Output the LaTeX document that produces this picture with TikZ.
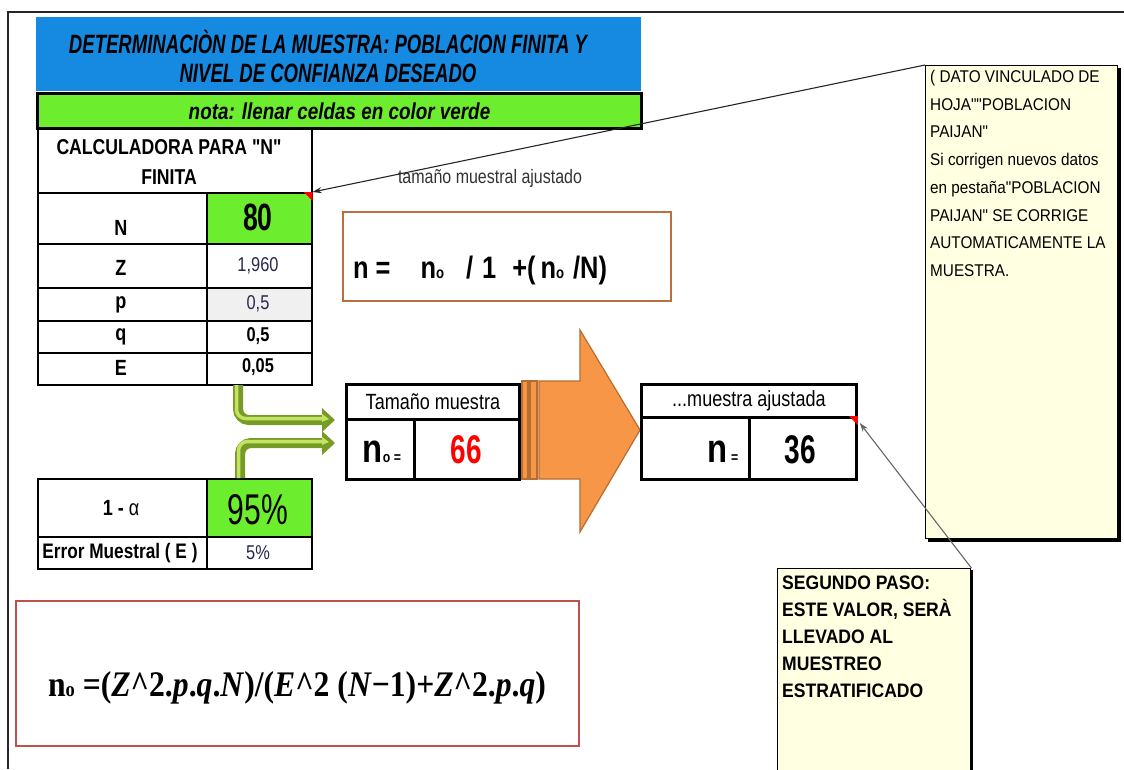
\documentclass[tikz,border=0pt]{standalone}
\usepackage{fontspec}
\setmainfont{Liberation Sans}
\newfontfamily\nfA[FakeStretch=0.70]{Liberation Sans}
\newfontfamily\nfB[FakeStretch=0.82]{Liberation Sans}
\newfontfamily\nfN[FakeStretch=0.90]{Liberation Sans}
\newfontfamily\nfS[FakeStretch=0.88]{Liberation Serif}
\usetikzlibrary{arrows.meta,calc}
\definecolor{xlblue}{RGB}{22,137,224}
\definecolor{xlgreen}{RGB}{108,238,46}
\definecolor{orfill}{RGB}{247,150,70}
\definecolor{ordraw}{RGB}{182,109,49}
\definecolor{brownb}{RGB}{184,112,62}
\definecolor{redb}{RGB}{192,80,77}
\definecolor{notefill}{RGB}{255,255,225}
\definecolor{gdark}{RGB}{118,156,38}
\definecolor{glight}{RGB}{196,226,100}
\definecolor{pgray}{RGB}{240,240,240}
\definecolor{valc}{RGB}{40,40,80}
\newcommand{\myfs}[2]{\fontsize{#1}{#2}\selectfont}
\begin{document}
\begin{tikzpicture}[x=1pt,y=-1pt,
  cell/.style={draw=black, line width=1.6pt, inner sep=0pt, anchor=north west},
  thickbox/.style={draw=black, line width=2.8pt, inner sep=0pt, anchor=north west},
  lab/.style={inner sep=0pt, font=\nfB\bfseries\myfs{22}{22}},
  val/.style={inner sep=0pt, font=\nfB\myfs{20}{20}, text=valc},
  valb/.style={inner sep=0pt, font=\nfB\bfseries\myfs{20}{20}},
  big/.style={inner sep=0pt, font=\nfA\bfseries\myfs{40}{40}},
  notebox/.style={draw=black, line width=1.4pt, fill=notefill, inner sep=0pt, anchor=north west},
  shadowbox/.style={fill=black, inner sep=0pt, anchor=north west},
  link/.style={line width=1.1pt, -{Stealth[length=9pt,width=6pt]}},
  orshape/.style={fill=orfill, draw=ordraw, line width=1.2pt},
]
\useasboundingbox (0,0) rectangle (1124,769);
\fill[white] (0,0) rectangle (1124,769);
\draw[line width=1.3pt, black!85] (8,769) -- (8,12) -- (1124,12);

% title and note bar
\node[fill=xlblue, minimum width=605pt, minimum height=74pt, anchor=north west, inner sep=0pt] (title) at (36,17) {};
\node[inner sep=0pt, font=\nfA\bfseries\itshape\myfs{26.5}{29}, align=center] (titlet) at (328,56)
  {DETERMINACIÒN DE LA MUESTRA: POBLACION FINITA Y\\NIVEL DE CONFIANZA DESEADO};
\node[fill=xlgreen, draw=black, line width=3pt, minimum width=604pt, minimum height=35pt,
  anchor=north west, inner sep=0pt, font=\nfB\bfseries\itshape\myfs{23}{23}] (nota) at (36,92)
  {nota: llenar celdas en color verde};

% calculator table
\node[cell, minimum width=274pt, minimum height=64pt] (hdr) at (37,128) {};
\node[inner sep=0pt, align=center, font=\nfB\bfseries\myfs{21.5}{30}] (hdrt) at (169,162) {CALCULADORA PARA "N"\\FINITA};
\node[cell, minimum width=169pt, minimum height=51pt] (cN) at (37,192) {};
\node[cell, fill=xlgreen, minimum width=105pt, minimum height=51pt] (vN) at (206,192) {};
\node[cell, minimum width=169pt, minimum height=44pt] (cZ) at (37,243) {};
\node[cell, minimum width=105pt, minimum height=44pt] (vZ) at (206,243) {};
\node[cell, minimum width=169pt, minimum height=33pt] (cp) at (37,287) {};
\node[cell, fill=pgray, minimum width=105pt, minimum height=33pt] (vp) at (206,287) {};
\node[cell, minimum width=169pt, minimum height=32pt] (cq) at (37,320) {};
\node[cell, minimum width=105pt, minimum height=32pt] (vq) at (206,320) {};
\node[cell, minimum width=169pt, minimum height=32pt] (cE) at (37,352) {};
\node[cell, minimum width=105pt, minimum height=32pt] (vE) at (206,352) {};
\fill[red] (vN.north east) -- ++(-9,0) -- ++(9,9) -- cycle;

\node[lab] (tN) at (121,228) {N};
\node[big, font=\nfA\bfseries\myfs{38}{38}] (t80) at (258,217) {80};
\node[lab] (tZ) at (121,268) {Z};
\node[val] (t1960) at (258,266) {1,960};
\node[lab] (tp) at (121,305) {p};
\node[val] (tp5) at (258,304) {0,5};
\node[lab] (tq) at (121,337) {q};
\node[valb] (tq5) at (258,336) {0,5};
\node[lab] (tE) at (121,368) {E};
\node[valb] (tE5) at (258,367) {0,05};

% confidence table
\node[cell, minimum width=169pt, minimum height=58pt] (cA) at (37,478) {};
\node[cell, fill=xlgreen, minimum width=105pt, minimum height=58pt] (vA) at (206,478) {};
\node[cell, minimum width=169pt, minimum height=32pt] (cEr) at (37,536) {};
\node[cell, minimum width=105pt, minimum height=32pt] (vEr) at (206,536) {};
\node[lab, font=\nfB\bfseries\myfs{22}{22}] (talpha) at (121,508) {1 - {\mdseries α}};
\node[big, font=\nfA\myfs{43}{43}] (t95) at (258,510) {95\%};
\node[lab, font=\nfB\bfseries\myfs{21}{21}] (terr) at (120,553) {Error Muestral ( E )};
\node[val] (t5) at (258,553) {5\%};

% green arrows
\coordinate (g1s) at (238,385);
\coordinate (g1e) at (322,420);
\coordinate (g2s) at (240,478);
\coordinate (g2e) at (322,443);
\foreach \s/\e in {g1s/g1e, g2s/g2e}{
  \draw[line width=10pt, gdark, rounded corners=11pt] (\s) |- (\e);
  \draw[line width=3.5pt, glight, rounded corners=9pt] ($(\s)+(-1.5,0)$) |- ($(\e)+(0,-1.5)$);
  \fill[gdark] ($(\e)+(0,-12)$) -- ($(\e)+(13,0)$) -- ($(\e)+(0,12)$) -- cycle;
  \fill[glight] ($(\e)+(0,-6)$) -- ($(\e)+(7,-1)$) -- ($(\e)+(0,2)$) -- cycle;
}

% Tamano muestra box
\node[thickbox, minimum width=173pt, minimum height=35pt, font=\nfB\myfs{22}{22}] (tamh) at (345,383) {Tamaño muestra};
\node[thickbox, minimum width=68pt, minimum height=60pt] (tamL) at (345,418) {};
\node[thickbox, minimum width=105pt, minimum height=60pt] (tamR) at (413,418) {};
\node[inner sep=0pt, anchor=base] (tn0) at (382,462) {{\nfB\bfseries\myfs{40}{40}n}{\nfB\bfseries\myfs{15}{15}o =}};
\node[big, text=red] (t66) at (466,450) {66};

% orange arrow
\filldraw[orshape] (522,381) rectangle (528,479);
\filldraw[orshape] (530,381) rectangle (537,479);
\filldraw[orshape] (539,381) -- (580,381) -- (580,330) -- (640,430) -- (580,532) -- (580,479) -- (539,479) -- cycle;

% muestra ajustada box
\node[thickbox, minimum width=215pt, minimum height=33pt, font=\nfB\myfs{22}{22}] (ajh) at (640,383) {...muestra ajustada};
\node[thickbox, minimum width=108pt, minimum height=62pt] (ajL) at (640,416) {};
\node[thickbox, minimum width=107pt, minimum height=62pt] (ajR) at (748,416) {};
\node[inner sep=0pt, anchor=base] (tn) at (723,462) {{\nfB\bfseries\myfs{40}{40}n}{\nfB\bfseries\myfs{15}{15} =}};
\node[big] (t36) at (800,450) {36};
\fill[red] (ajR.north east) -- ++(-9,0) -- ++(9,9) -- cycle;

% formula 1
\node[draw=brownb, line width=1.6pt, minimum width=328pt, minimum height=89pt, anchor=north west, inner sep=0pt] (f1) at (342,211) {};
\node[anchor=base west, inner sep=0pt, font=\nfB\bfseries\myfs{31}{31}] (f1t) at (353,278)
  {n\hspace{7pt}=\hspace{30pt}n{\myfs{16}{16}o}\hspace{22pt}/\hspace{9pt}1\hspace{16pt}+(\hspace{5pt}n{\myfs{16}{16}o}\hspace{9pt}/N)};

\node[inner sep=0pt, font=\nfB\myfs{19.5}{19.5}, text=black!80] (tma) at (490,178) {tamaño muestral ajustado};

% formula 2
\node[draw=redb, line width=2.2pt, minimum width=563pt, minimum height=145pt, anchor=north west, inner sep=0pt] (f2) at (15,600) {};
\node[inner sep=0pt, font=\nfS\bfseries\myfs{36}{36}] (f2t) at (297,688)
  {n{\myfs{21}{21}o} =(\textit{Z}\textasciicircum 2.\textit{p}.\textit{q}.\textit{N})/(\textit{E}\textasciicircum 2 (\textit{N}−1)+\textit{Z}\textasciicircum 2.\textit{p}.\textit{q})};

% callout 1
\node[shadowbox, minimum width=193pt, minimum height=474pt] (c1s) at (928,68) {};
\node[notebox, minimum width=192pt, minimum height=473pt] (c1) at (925,65) {};
\node[anchor=north west, inner sep=0pt, align=left, font=\nfN\myfs{17}{27.7}] (c1t) at (930,70)
  {( DATO VINCULADO DE\\HOJA""POBLACION\\PAIJAN"\\Si corrigen nuevos datos\\en pestaña"POBLACION\\PAIJAN" SE CORRIGE\\AUTOMATICAMENTE LA\\MUESTRA.};

% callout 2
\node[shadowbox, minimum width=194pt, minimum height=210pt] (c2s) at (779,570) {};
\node[notebox, minimum width=193pt, minimum height=210pt] (c2) at (777,568) {};
\node[anchor=north west, inner sep=0pt, align=left, font=\nfN\bfseries\myfs{19.5}{27}] (c2t) at (782,576)
  {SEGUNDO PASO:\\ESTE VALOR, SERÀ\\LLEVADO AL\\MUESTREO\\ESTRATIFICADO};

% connectors
\draw[link, black!85] (c1.north west) -- (vN.north east);
\draw[link, black!60] (c2.north east) -- ($(ajR.north east)+(2,7)$);
\end{tikzpicture}
\end{document}
